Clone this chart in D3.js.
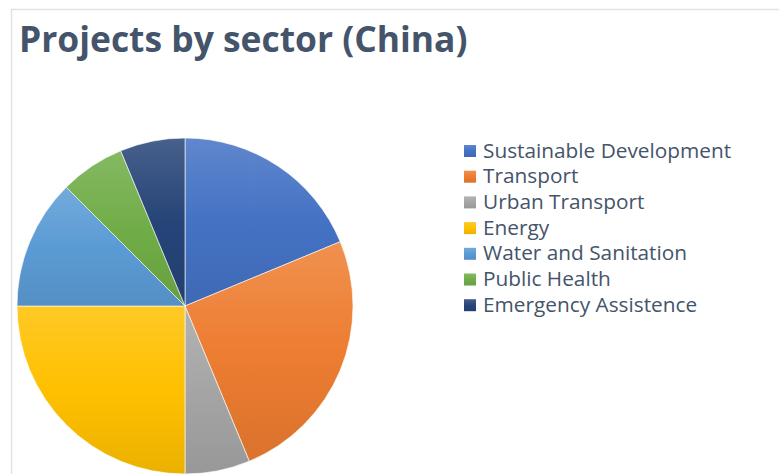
<!DOCTYPE html>
<html>
<head>
<meta charset="utf-8">
<script src="https://cdn.jsdelivr.net/npm/d3@7"></script>
<style>
  body { margin: 0; background: #fff; }
  svg { display: block; }
</style>
</head>
<body>
<div id="chart"></div>
<script>
var sectors = ["Sustainable Development", "Transport", "Urban Transport", "Energy",
               "Water and Sanitation", "Public Health", "Emergency Assistence"];
var projects = [3, 4, 1, 4, 2, 1, 1];
var colours = ["#4472C4", "#ED7D31", "#A5A5A5", "#FFC000", "#5B9BD5", "#70AD47", "#264478"];

var width = 779, height = 474;

var svg = d3.select("#chart")
            .append("svg")
            .attr("width", width)
            .attr("height", height);

// chart area frame (runs off the right / bottom edge)
svg.append("path")
   .attr("d", "M11.5,474 V9.5 H779")
   .attr("fill", "none")
   .attr("stroke", "#dde2e9")
   .attr("stroke-width", 1.5);

svg.append("text")
   .attr("x", 19)
   .attr("y", 52)
   .attr("font-family", "'Open Sans', sans-serif")
   .attr("font-weight", "bold")
   .attr("font-size", 35.4)
   .attr("fill", "#44546A")
   .text("Projects by sector (China)");

// gradients, light at top, darker at bottom
var defs = svg.append("defs");
colours.forEach(function(c, i) {
  var g = defs.append("linearGradient")
              .attr("id", "grad" + i)
              .attr("x1", 0).attr("y1", 0).attr("x2", 0).attr("y2", 1);
  g.append("stop").attr("offset", "0%").attr("stop-color", d3.interpolateRgb(c, "#fff")(0.15));
  g.append("stop").attr("offset", "50%").attr("stop-color", c);
  g.append("stop").attr("offset", "100%").attr("stop-color", d3.interpolateRgb(c, "#000")(0.08));
});

var pie = d3.pie().sort(null).value(function(d) { return d; });
var arc = d3.arc().innerRadius(0).outerRadius(168);

var pieG = svg.append("g").attr("transform", "translate(185,306)");
pieG.selectAll("path")
    .data(pie(projects))
    .enter()
    .append("path")
    .attr("d", arc)
    .attr("fill", function(d, i) { return "url(#grad" + i + ")"; })
    .attr("stroke", "#fff")
    .attr("stroke-width", 0.6);

var legend = svg.append("g").attr("transform", "translate(464,145)");
var rows = legend.selectAll("g")
                 .data(sectors)
                 .enter()
                 .append("g")
                 .attr("transform", function(d, i) { return "translate(0," + (i * 25.7) + ")"; });
rows.append("rect")
    .attr("width", 12).attr("height", 12)
    .attr("fill", function(d, i) { return "url(#grad" + i + ")"; });
rows.append("text")
    .attr("x", 19)
    .attr("y", 12.5)
    .attr("font-family", "'Open Sans', sans-serif")
    .attr("font-size", 20.8)
    .attr("fill", "#44546A")
    .text(function(d) { return d; });
</script>
</body>
</html>
